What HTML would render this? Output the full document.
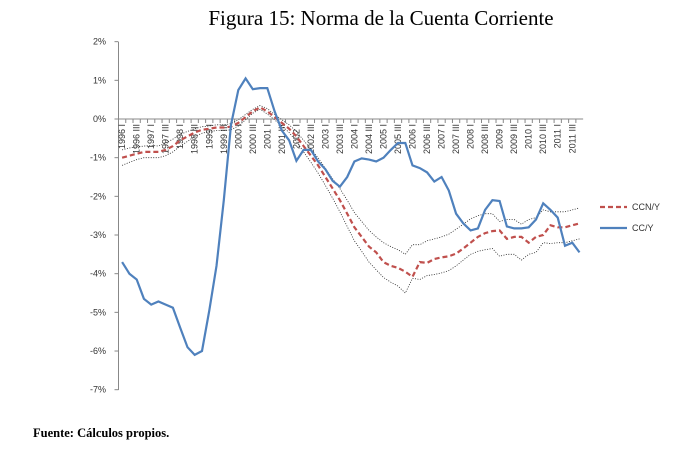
<!DOCTYPE html>
<html><head><meta charset="utf-8"><style>
body{margin:0;background:#fff;width:684px;height:459px;overflow:hidden;font-family:"Liberation Sans",sans-serif}
</style></head><body>
<div style="position:absolute;left:0;width:762px;top:6px;text-align:center;font-family:'Liberation Serif',serif;font-size:21px;color:#000">Figura 15: Norma de la Cuenta Corriente</div>
<div style="position:absolute;left:33px;top:426px;font-family:'Liberation Serif',serif;font-size:12.5px;font-weight:bold">Fuente: Cálculos propios.</div>
<svg id="c" width="684" height="459" style="position:absolute;left:0;top:0"></svg>
<script>
const categories=[];for(let y=1996;y<=2011;y++){for(const q of ["I","II","III","IV"])categories.push(y+" "+q);}
const yTicks=[2,1,0,-1,-2,-3,-4,-5,-6,-7];
const ccY=[-3.7,-4.0,-4.15,-4.65,-4.8,-4.72,-4.8,-4.88,-5.4,-5.9,-6.1,-6.0,-4.95,-3.8,-2.1,-0.15,0.75,1.05,0.77,0.8,0.8,0.2,-0.3,-0.55,-1.08,-0.8,-0.8,-1.1,-1.3,-1.6,-1.75,-1.5,-1.1,-1.02,-1.05,-1.1,-1.0,-0.8,-0.62,-0.62,-1.2,-1.27,-1.38,-1.62,-1.5,-1.85,-2.45,-2.7,-2.88,-2.83,-2.35,-2.1,-2.12,-2.78,-2.83,-2.83,-2.8,-2.6,-2.18,-2.35,-2.55,-3.28,-3.2,-3.45];
const ccnY=[-1.0,-0.95,-0.9,-0.85,-0.85,-0.85,-0.8,-0.7,-0.55,-0.45,-0.35,-0.28,-0.25,-0.22,-0.22,-0.2,-0.1,0.05,0.2,0.3,0.2,0.05,-0.1,-0.25,-0.45,-0.7,-0.95,-1.2,-1.5,-1.8,-2.1,-2.45,-2.8,-3.05,-3.3,-3.45,-3.7,-3.8,-3.85,-3.95,-4.08,-3.7,-3.72,-3.62,-3.58,-3.55,-3.48,-3.35,-3.2,-3.05,-2.95,-2.9,-2.88,-3.1,-3.05,-3.05,-3.2,-3.05,-3.0,-2.75,-2.8,-2.8,-2.75,-2.7];
const upper=[-0.8,-0.75,-0.72,-0.7,-0.68,-0.7,-0.62,-0.52,-0.4,-0.32,-0.25,-0.2,-0.18,-0.15,-0.15,-0.12,-0.02,0.12,0.25,0.35,0.27,0.12,-0.02,-0.15,-0.32,-0.55,-0.78,-1.0,-1.28,-1.55,-1.8,-2.1,-2.42,-2.65,-2.88,-3.05,-3.2,-3.3,-3.38,-3.5,-3.25,-3.25,-3.15,-3.1,-3.05,-2.98,-2.85,-2.72,-2.58,-2.5,-2.45,-2.45,-2.65,-2.6,-2.6,-2.72,-2.6,-2.55,-2.35,-2.4,-2.4,-2.4,-2.35,-2.3];
const lower=[-1.2,-1.12,-1.05,-1.0,-1.0,-1.0,-0.95,-0.85,-0.7,-0.58,-0.45,-0.37,-0.32,-0.3,-0.3,-0.28,-0.18,-0.02,0.15,0.25,0.13,-0.02,-0.18,-0.35,-0.58,-0.85,-1.12,-1.4,-1.72,-2.05,-2.4,-2.78,-3.15,-3.42,-3.7,-3.9,-4.1,-4.22,-4.32,-4.5,-4.12,-4.15,-4.05,-4.02,-3.98,-3.92,-3.8,-3.65,-3.5,-3.42,-3.38,-3.35,-3.55,-3.5,-3.5,-3.65,-3.5,-3.45,-3.2,-3.22,-3.2,-3.2,-3.15,-3.1];
const svg=document.getElementById('c');const NS='http://www.w3.org/2000/svg';
const X0=118.5,STEP=7.26,Y0=119,PER=38.67;
const xs=i=>X0+STEP*(i+0.5);const ys=v=>Y0-v*PER;
function mk(t,a,p){const e=document.createElementNS(NS,t);for(const k in a)e.setAttribute(k,a[k]);(p||svg).appendChild(e);return e;}
const ax=mk('line',{x1:X0,y1:42,x2:X0,y2:390,stroke:'#888','stroke-width':1});


yTicks.forEach(v=>{
 mk('line',{x1:X0-4,x2:X0,y1:ys(v),y2:ys(v),stroke:'#888'});
 const t=mk('text',{x:106,y:ys(v)+3,'text-anchor':'end','font-size':9,fill:'#333'});t.textContent=v+'%';
 
 
});
const xa=mk('line',{x1:X0,y1:Y0,x2:X0+STEP*categories.length,y2:Y0,stroke:'#888'});


categories.forEach((c,i)=>{
 mk('line',{x1:X0+STEP*i,x2:X0+STEP*i,y1:Y0,y2:Y0+4,stroke:'#888'});
 if(i%2===0){const t=mk('text',{transform:`translate(${xs(i)+3},${Y0+5}) rotate(-90)`,'text-anchor':'end','font-size':9,fill:'#333'});t.textContent=c;
 
 }
});
function line(arr,attrs,name){const d=arr.map((v,i)=>(i?'L':'M')+xs(i).toFixed(1)+','+ys(v).toFixed(1)).join('');const p=mk('path',Object.assign({d,fill:'none'},attrs));
 
 }
line(upper,{stroke:'#222','stroke-width':0.8,'stroke-dasharray':'1,1.5'},'upper-band');
line(lower,{stroke:'#222','stroke-width':0.8,'stroke-dasharray':'1,1.5'},'lower-band');
line(ccnY,{stroke:'#c0504d','stroke-width':2.2,'stroke-dasharray':'5,3'},'ccn-y-line');
line(ccY,{stroke:'#4f81bd','stroke-width':2.2},'cc-y-line');
[['CCN/Y','#c0504d','5,3',207],['CC/Y','#4f81bd','',228]].forEach(([n,c,da,y])=>{
 const g=mk('g',{});
 
 
 mk('line',{x1:600,x2:627,y1:y,y2:y,stroke:c,'stroke-width':2.2,'stroke-dasharray':da},g);
 const t=mk('text',{x:632,y:y+3,'font-size':9,fill:'#333'},g);t.textContent=n;
});
</script>
</body></html>
